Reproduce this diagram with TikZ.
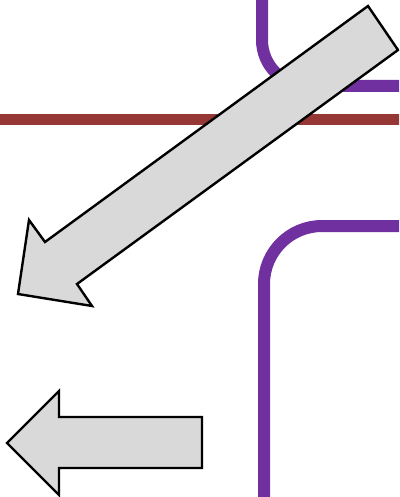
\documentclass[tikz,border=0pt]{standalone}
\definecolor{FlowPurple}{RGB}{112,48,160}
\definecolor{FlowRed}{RGB}{149,55,53}
\definecolor{FlowGray}{RGB}{217,217,217}
\usepackage{tikz}
\usetikzlibrary{
    calc,
}

\begin{document}
\begin{tikzpicture}[x=1pt, y=-1pt]
        \useasboundingbox (0, 0) rectangle (399, 497);
        \clip (0, 0) rectangle (399, 497);
        % bar and frames
        \draw[line width=11pt, FlowRed] (-10, 120) -- (410, 120);
        \draw[line width=12pt, FlowPurple, rounded corners=46] (262, -20) |- (420, 86);
        \draw[line width=12pt, FlowPurple, rounded corners=58] (264, 520) |- (420, 226);
        % block arrows
        \draw[line width=2.4pt, fill=FlowGray, line join=miter]
            (368, 6) -- (398, 50) -- (77, 284) -- (92, 306) -- (18, 294)
            -- (29, 220) -- (45, 242) -- cycle;
        \draw[line width=2.4pt, fill=FlowGray, line join=miter]
            (202, 417) -- (202, 468) -- (59, 468) -- (59, 495) -- (7, 443)
            -- (59, 391) -- (59, 417) -- cycle;
    \end{tikzpicture}
\end{document}
